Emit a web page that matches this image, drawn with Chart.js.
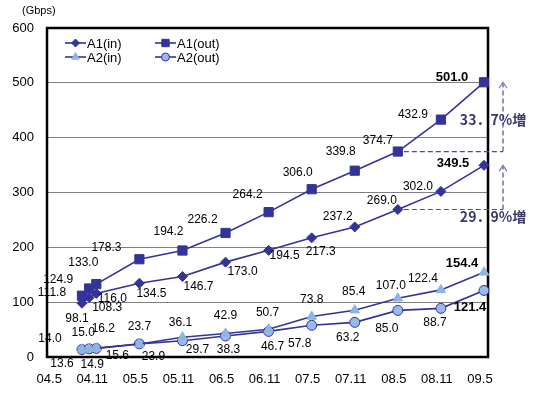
<!DOCTYPE html>
<html>
<head>
<meta charset="utf-8">
<script src="https://cdn.jsdelivr.net/npm/chart.js@4.4.1/dist/chart.umd.min.js"></script>
<style>
html,body{margin:0;padding:0;background:#fff;}
#wrap{width:535px;height:394px;position:relative;}
</style>
</head>
<body>
<div id="wrap"><canvas id="c" width="535" height="394"></canvas></div>
<script>
// ---- data ----
const categories = ['04.9','04.10','04.11','05.5','05.11','06.5','06.11','07.5','07.11','08.5','08.11','09.5'];
const xTickLabels = ['04.5','04.11','05.5','05.11','06.5','06.11','07.5','07.11','08.5','08.11','09.5'];
const yTicks = [0,100,200,300,400,500,600];
const a1In  = [98.1,108.3,116.0,134.5,146.7,173.0,194.5,217.3,237.2,269.0,302.0,349.5];
const a1Out = [111.8,124.9,133.0,178.3,194.2,226.2,264.2,306.0,339.8,374.7,432.9,501.0];
const a2In  = [14.0,15.0,16.2,23.7,36.1,42.9,50.7,73.8,85.4,107.0,122.4,154.4];
const a2Out = [13.6,14.9,15.6,23.9,29.7,38.3,46.7,57.8,63.2,85.0,88.7,121.4];
const seriesNames = ['A1(in)','A1(out)','A2(in)','A2(out)'];
const growthLabels = ['33．7%増','29．9%増'];
const unitLabel = '(Gbps)';

// ---- styling (label offsets in px, relative to each point) ----
const labelOffsets = [
  [[-5,15],[18,10],[16,5],[12,10],[16,10],[17,10],[16,5],[9,14],[-17,-10],[-16,-9],[-23,-5],[-31,-2]],
  [[-30,-3],[-31,-9],[-13,-21],[-33,-12],[-14,-19],[-23,-13],[-21,-17],[-14,-17],[-14,-19],[-20,-11],[-28,-5],[-32,-5]],
  [[-32,-11],[-6,-16],[7,-19],[0,-17],[-2,-15],[0,-18],[-1,-17],[0,-17],[-1,-18],[-7,-13],[-18,-11],[-22,-9]],
  [[-20,14],[3,16],[21,7],[14,13],[15,9],[3,14],[4,15],[-12,18],[-7,15],[-11,18],[-6,14],[-14,17]]
];

function toMonth(s){ const p = s.split('.').map(Number); return (p[0]-4)*12 + (p[1]-5); }
function pts(arr){ return categories.map((c,i)=>({x:toMonth(c), y:arr[i]})); }

const NAVY = '#333399';
const styles = [
  {pointStyle:'rectRot', radius:5, bg:NAVY, border:NAVY},
  {pointStyle:'rect', radius:6.5, bg:NAVY, border:NAVY},
  {pointStyle:'triangle', radius:5.5, bg:'#8DB4E3', border:'#8DB4E3'},
  {pointStyle:'circle', radius:5, bg:'#99B8EC', border:NAVY}
];
const allData = [a1In,a1Out,a2In,a2Out];

const datasets = allData.map((d,i)=>({
  label: seriesNames[i],
  data: pts(d),
  borderColor: NAVY,
  borderWidth: 1.6,
  pointStyle: styles[i].pointStyle,
  pointRadius: styles[i].radius,
  pointBackgroundColor: styles[i].bg,
  pointBorderColor: styles[i].border,
  pointBorderWidth: 1,
  tension: 0,
  clip: false
}));

function drawMarker(ctx, st, x, y){
  ctx.save();
  ctx.fillStyle = st.bg; ctx.strokeStyle = st.border; ctx.lineWidth = 1;
  ctx.beginPath();
  const r = st.radius;
  if (st.pointStyle==='rectRot'){ ctx.moveTo(x,y-r);ctx.lineTo(x+r,y);ctx.lineTo(x,y+r);ctx.lineTo(x-r,y);ctx.closePath(); }
  else if (st.pointStyle==='rect'){ const s=r*Math.SQRT1_2; ctx.rect(x-s,y-s,2*s,2*s); }
  else if (st.pointStyle==='triangle'){ ctx.moveTo(x,y-r);ctx.lineTo(x+r*0.866,y+r*0.5);ctx.lineTo(x-r*0.866,y+r*0.5);ctx.closePath(); }
  else { ctx.arc(x,y,r,0,Math.PI*2); }
  ctx.fill(); ctx.stroke();
  ctx.restore();
}

const decorPlugin = {
  id:'decor',
  beforeDatasetsDraw(chart){
    const {ctx, chartArea:a} = chart;
    ctx.save();
    ctx.strokeStyle = '#000'; ctx.lineWidth = 2.5;
    ctx.strokeRect(a.left, a.top, a.right-a.left, a.bottom-a.top);
    ctx.restore();
  },
  afterDatasetsDraw(chart){
    const {ctx, chartArea:a, scales} = chart;
    const ys = scales.y;
    ctx.save();
    // unit label
    ctx.fillStyle = '#000';
    ctx.font = "11px 'Liberation Sans', Arial, sans-serif";
    ctx.textAlign = 'left'; ctx.textBaseline = 'middle';
    ctx.fillText(unitLabel, 22, 11);
    // data labels
    ctx.textAlign = 'center'; ctx.textBaseline = 'middle';
    datasets.forEach((ds,di)=>{
      const meta = chart.getDatasetMeta(di);
      meta.data.forEach((pt,i)=>{
        const last = i === ds.data.length-1;
        ctx.font = last ? "bold 13px 'Liberation Sans', Arial, sans-serif" : "12px 'Liberation Sans', Arial, sans-serif";
        const o = labelOffsets[di][i];
        ctx.fillStyle = '#000';
        ctx.fillText(allData[di][i].toFixed(1), pt.x + o[0], pt.y + o[1]);
      });
    });
    // legend
    ctx.font = "13px 'Liberation Sans', Arial, sans-serif";
    ctx.textAlign = 'left';
    const legPos = [[65,43],[155,43],[65,57],[155,57]];
    legPos.forEach((p,i)=>{
      ctx.strokeStyle = NAVY; ctx.lineWidth = 1.6;
      ctx.beginPath(); ctx.moveTo(p[0],p[1]); ctx.lineTo(p[0]+21,p[1]); ctx.stroke();
      const st = Object.assign({}, styles[i]);
      st.radius = st.radius*0.8;
      drawMarker(ctx, st, p[0]+10.5, p[1]);
      ctx.fillStyle = '#000';
      ctx.fillText(seriesNames[i], p[0]+22, p[1]+1);
    });
    // growth arrows
    const ax = a.right + 15;
    [1,0].forEach((di)=>{
      const n = allData[di].length;
      const base = chart.getDatasetMeta(di).data[n-3];
      const tipY = ys.getPixelForValue(allData[di][n-1]);
      ctx.strokeStyle = '#4a4aa0'; ctx.lineWidth = 1.2;
      ctx.setLineDash([5,3]);
      ctx.beginPath(); ctx.moveTo(base.x+6, base.y); ctx.lineTo(ax, base.y); ctx.stroke();
      ctx.beginPath(); ctx.moveTo(ax, base.y); ctx.lineTo(ax, tipY+1); ctx.stroke();
      ctx.setLineDash([]);
      ctx.strokeStyle = '#7777bb';
      ctx.beginPath(); ctx.moveTo(ax-4, tipY+6); ctx.lineTo(ax, tipY); ctx.lineTo(ax+4, tipY+6); ctx.stroke();
    });
    ctx.fillStyle = '#3a3a6a';
    ctx.font = "bold 14px 'Noto Sans CJK JP', sans-serif";
    ctx.textAlign = 'center';
    ctx.fillText(growthLabels[0], 493, 120);
    ctx.fillText(growthLabels[1], 493, 217);
    ctx.restore();
  }
};

new Chart(document.getElementById('c'), {
  type:'line',
  data:{datasets},
  options:{
    responsive:false,
    animation:false,
    layout:{padding:{top:28,right:47,left:0,bottom:0}},
    plugins:{legend:{display:false}, tooltip:{enabled:false}},
    scales:{
      x:{
        type:'linear', min:-0.87, max:60.56,
        afterBuildTicks(s){ s.ticks = xTickLabels.map(l=>({value:toMonth(l)})); },
        afterFit(s){ s.height = 37; },
        grid:{display:false, drawTicks:false},
        border:{display:false},
        ticks:{
          autoSkip:false, maxRotation:0, padding:15, labelOffset:-4,
          color:'#000', font:{size:13, family:"'Liberation Sans', Arial, sans-serif"},
          callback(v){ const i = xTickLabels.findIndex(l=>toMonth(l)===v); return i>=0 ? xTickLabels[i] : ''; }
        }
      },
      y:{
        min:0, max:600,
        afterBuildTicks(s){ s.ticks = yTicks.map(v=>({value:v})); },
        afterFit(s){ s.width = 47; },
        grid:{color:'#808080', lineWidth:1, drawTicks:false},
        border:{display:false},
        ticks:{padding:13, color:'#000', font:{size:13, family:"'Liberation Sans', Arial, sans-serif"}}
      }
    }
  },
  plugins:[decorPlugin]
});
</script>
</body>
</html>
